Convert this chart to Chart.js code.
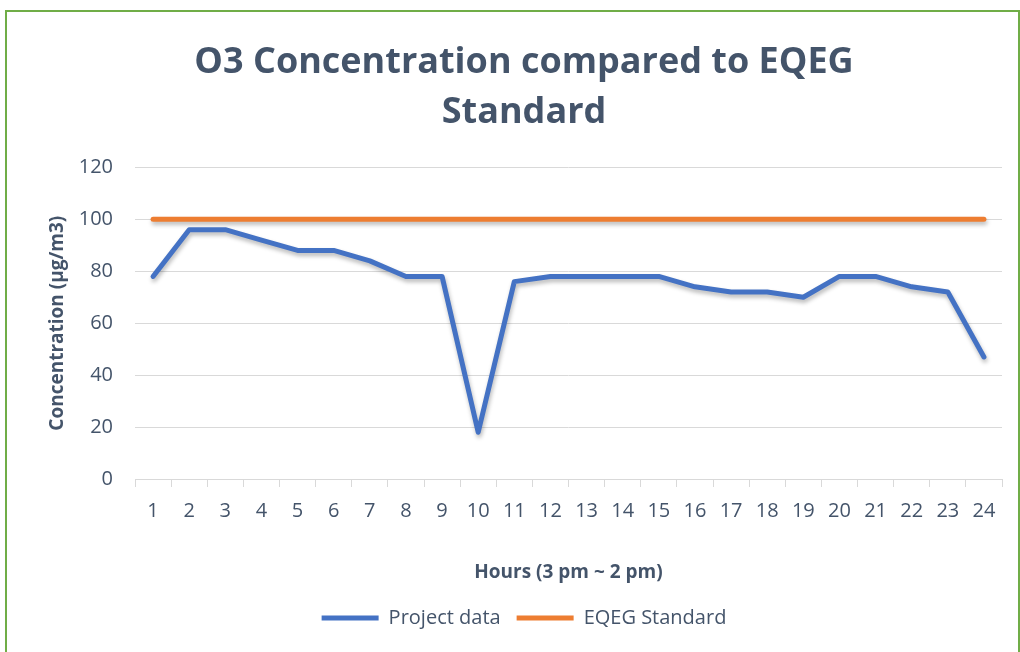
<!DOCTYPE html>
<html>
<head>
<meta charset="utf-8">
<script src="https://cdn.jsdelivr.net/npm/chart.js@4.4.1/dist/chart.umd.min.js"></script>
<style>
  html, body { margin:0; padding:0; background:#fff; }
  #wrap { position:relative; width:1020px; height:652px; overflow:hidden; }
  #frame { position:absolute; left:5px; top:10px; width:1011px; height:700px; border:2px solid #70AD47; pointer-events:none; }
  canvas { position:absolute; left:0; top:0; }
</style>
</head>
<body>
<div id="wrap">
  <canvas id="chart" width="1020" height="652"></canvas>
  <div id="frame"></div>
</div>
<script>
const hours       = ['1','2','3','4','5','6','7','8','9','10','11','12','13','14','15','16','17','18','19','20','21','22','23','24'];
const projectData = [78, 96, 96, 92, 88, 88, 84, 78, 78, 18, 76, 78, 78, 78, 78, 74, 72, 72, 70, 78, 78, 74, 72, 47];
const eqegStd     = [100,100,100,100,100,100,100,100,100,100,100,100,100,100,100,100,100,100,100,100,100,100,100,100];
const yTicks      = [0, 20, 40, 60, 80, 100, 120];

const FONT  = '"Open Sans", "Noto Sans", sans-serif';
const INK   = '#44546A';
const GRID  = '#D9D9D9';

// soft shadow under the lines, like the office chart
const lineShadow = {
    id: 'lineShadow',
    beforeDatasetDraw(chart) {
        const c = chart.ctx;
        c.save();
        c.shadowColor   = 'rgba(0,0,0,0.28)';
        c.shadowBlur    = 4;
        c.shadowOffsetX = 1;
        c.shadowOffsetY = 3;
    },
    afterDatasetDraw(chart) { chart.ctx.restore(); }
};

new Chart(document.getElementById('chart'), {
    type: 'line',
    data: {
        labels: hours,
        datasets: [
            {
                label          : 'Project data',
                data           : projectData,
                borderColor    : '#4472C4',
                backgroundColor: '#4472C4',
                borderWidth    : 5,
                borderCapStyle : 'round',
                borderJoinStyle: 'round',
                pointRadius    : 0,
                tension        : 0,
            },
            {
                label          : 'EQEG Standard',
                data           : eqegStd,
                borderColor    : '#ED7D31',
                backgroundColor: '#ED7D31',
                borderWidth    : 5,
                borderCapStyle : 'round',
                borderJoinStyle: 'round',
                pointRadius    : 0,
                tension        : 0,
            }
        ]
    },
    options: {
        responsive: false,
        animation : false,
        layout: { padding: { left: 46, right: 18, top: 38, bottom: 14 } },
        plugins: {
            title: {
                display : true,
                text    : ['O3 Concentration compared to EQEG', 'Standard'],
                color   : INK,
                font    : { family: FONT, size: 36, weight: 'bold', lineHeight: 1.38 },
                padding : { top: 0, bottom: 30 },
            },
            legend: {
                position: 'bottom',
                labels  : {
                    color    : INK,
                    font     : { family: FONT, size: 20 },
                    boxWidth : 57,
                    boxHeight: 5,
                    padding  : 16,
                    generateLabels(chart) {
                        return chart.data.datasets.map((ds, i) => ({
                            text        : ds.label,
                            fillStyle   : ds.borderColor,
                            strokeStyle : ds.borderColor,
                            lineWidth   : 0,
                            fontColor   : INK,
                            datasetIndex: i,
                        }));
                    }
                }
            },
            tooltip: { enabled: false },
        },
        scales: {
            x: {
                offset: true,
                grid  : { offset: true, drawOnChartArea: false, drawTicks: true, tickLength: 8, color: GRID },
                border: { color: GRID },
                ticks : { color: INK, font: { family: FONT, size: 20 }, padding: 12, maxRotation: 0, autoSkip: false },
                title : { display: true, text: 'Hours (3 pm ~ 2 pm)', color: INK,
                          font: { family: FONT, size: 19, weight: 'bold' }, padding: { top: 20, bottom: 8 } },
                afterFit(scale) { scale.height = 113; },
            },
            y: {
                min: 0, max: 120,
                afterBuildTicks(scale) { scale.ticks = yTicks.map(v => ({ value: v })); },
                grid  : { color: GRID, drawTicks: false },
                border: { display: false },
                ticks : { color: INK, font: { family: FONT, size: 20 }, padding: 22 },
                title : { display: true, text: 'Concentration (µg/m3)', color: INK,
                          font: { family: FONT, size: 19, weight: 'bold' }, padding: { top: 0, bottom: 8 } },
                afterFit(scale) { scale.width = 89; },
            }
        }
    },
    plugins: [lineShadow]
});
</script>
</body>
</html>
